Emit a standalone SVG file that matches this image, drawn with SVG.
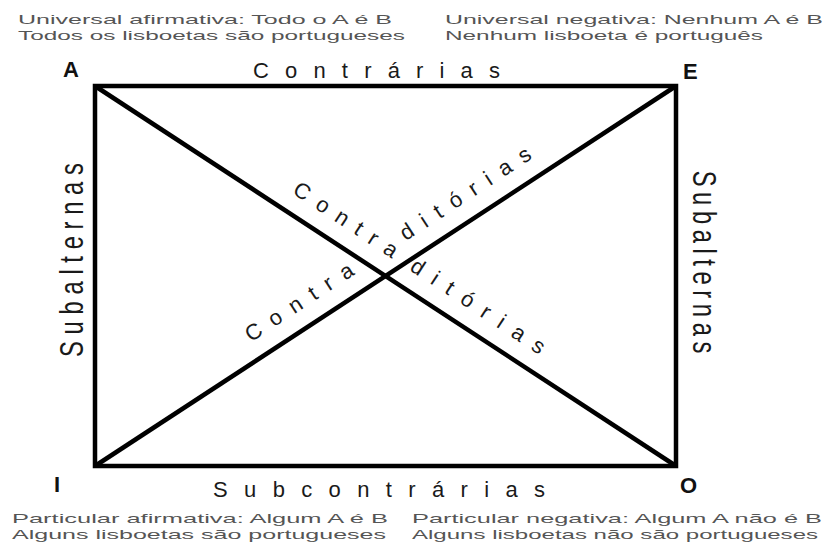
<svg xmlns="http://www.w3.org/2000/svg" width="826" height="548" viewBox="0 0 826 548">
<style>
.cap{font-family:"Liberation Sans",Arial,sans-serif;font-size:13.5px;fill:#555}
.lbl{font-family:"Liberation Sans",Arial,sans-serif;fill:#1a1a1a}
.corner{font-family:"Liberation Sans",Arial,sans-serif;font-weight:bold;font-size:22px;fill:#111}
.ln{stroke:#000;stroke-width:4.5;fill:none}
</style>
<rect width="826" height="548" fill="#fff"/>
<g id="captions">
<text class="cap" x="18" y="24" textLength="374" lengthAdjust="spacingAndGlyphs">Universal afirmativa: Todo o A é B</text>
<text class="cap" x="18" y="40" textLength="387" lengthAdjust="spacingAndGlyphs">Todos os lisboetas são portugueses</text>
<text class="cap" x="445" y="24" textLength="378" lengthAdjust="spacingAndGlyphs">Universal negativa: Nenhum A é B</text>
<text class="cap" x="445" y="40" textLength="318" lengthAdjust="spacingAndGlyphs">Nenhum lisboeta é português</text>
<text class="cap" x="12" y="523" textLength="376" lengthAdjust="spacingAndGlyphs">Particular afirmativa: Algum A é B</text>
<text class="cap" x="12" y="539" textLength="374" lengthAdjust="spacingAndGlyphs">Alguns lisboetas são portugueses</text>
<text class="cap" x="412" y="523" textLength="410" lengthAdjust="spacingAndGlyphs">Particular negativa: Algum A não é B</text>
<text class="cap" x="412" y="539" textLength="406" lengthAdjust="spacingAndGlyphs">Alguns lisboetas não são portugueses</text>
</g>
<g id="connectors">
<rect class="ln" x="95" y="86" width="581" height="380"/>
<line class="ln" x1="95" y1="86" x2="676" y2="466"/>
<line class="ln" x1="95" y1="466" x2="676" y2="86"/>
</g>
<g id="node-A"><text class="corner" x="63" y="77">A</text></g>
<g id="node-E"><text class="corner" x="683" y="79">E</text></g>
<g id="node-I"><text class="corner" x="54" y="492">I</text></g>
<g id="node-O"><text class="corner" x="680" y="493">O</text></g>
<g id="label-contrarias"><text class="lbl" x="253" y="78" font-size="22" textLength="247" lengthAdjust="spacing">Contrárias</text></g>
<g id="label-subcontrarias"><text class="lbl" x="213" y="497" font-size="22" textLength="332" lengthAdjust="spacing">Subcontrárias</text></g>
<g id="label-subalternas-left" transform="translate(83,260) rotate(-90)">
<text class="lbl" transform="scale(0.7,1)" x="0" y="0" font-size="34" text-anchor="middle" textLength="277" lengthAdjust="spacing">Subalternas</text>
</g>
<g id="label-subalternas-right" transform="translate(693,262) rotate(90)">
<text class="lbl" transform="scale(0.7,1)" x="0" y="0" font-size="34" text-anchor="middle" textLength="261" lengthAdjust="spacing">Subalternas</text>
</g>
<g id="label-contraditorias-AO" transform="translate(385.5,276) rotate(33.19)">
<text class="lbl" x="-124" y="-18" font-size="22" textLength="120" lengthAdjust="spacing">Contra</text>
<text class="lbl" x="16" y="-18" font-size="22" textLength="156" lengthAdjust="spacing">ditórias</text>
</g>
<g id="label-contraditorias-IE" transform="translate(385.5,276) rotate(-33.19)">
<text class="lbl" x="-149" y="-18" font-size="22" textLength="125" lengthAdjust="spacing">Contra</text>
<text class="lbl" x="36" y="-18" font-size="22" textLength="152" lengthAdjust="spacing">ditórias</text>
</g>
</svg>
